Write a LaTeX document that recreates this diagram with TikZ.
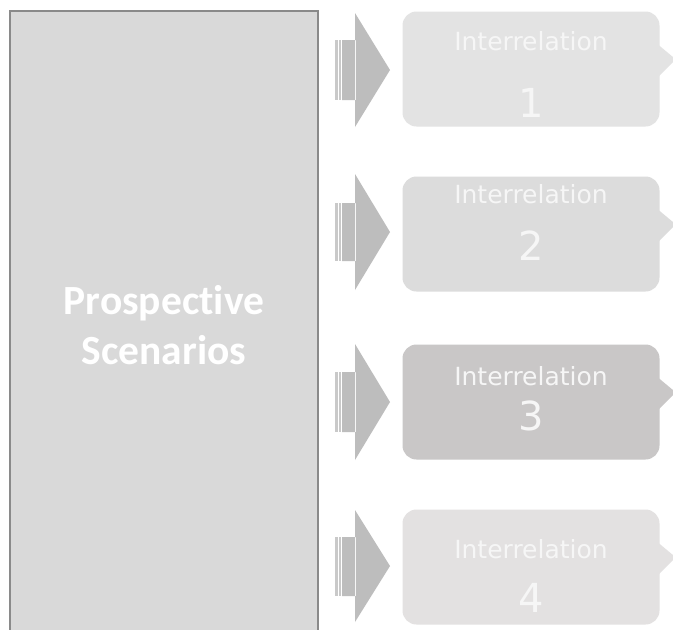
\documentclass[tikz,border=0pt]{standalone}
\usepackage{fontspec}
\newfontfamily\relfont{DejaVu Sans}
\newfontfamily\scenfont[Ligatures=NoCommon]{Carlito}
\definecolor{scenfill}{HTML}{D9D9D9}
\definecolor{scenline}{HTML}{8A8A8A}
\definecolor{arrowgray}{HTML}{BDBDBD}
\definecolor{stripegray}{HTML}{C9C9C9}
\definecolor{relA}{HTML}{E3E3E3}
\definecolor{relB}{HTML}{DCDCDC}
\definecolor{relC}{HTML}{C9C7C7}
\definecolor{relD}{HTML}{E3E1E1}
\definecolor{reltext}{HTML}{F6F6F6}

\begin{document}
\begin{tikzpicture}[x=1pt,y=-1pt]
\tikzset{
  scenbox/.style={draw=scenline,line width=2pt,fill=scenfill,minimum width=308pt,minimum height=628pt,
    inner sep=0pt,align=center,text=white,font=\scenfont\bfseries\fontsize{41.5}{50}\selectfont},
  relbox/.style={rounded corners=14pt,minimum width=257pt,minimum height=115pt,inner sep=0pt},
  reltitle/.style={anchor=base,text=reltext,font=\relfont\fontsize{25}{30}\selectfont},
  relnum/.style={anchor=base,text=reltext,font=\relfont\fontsize{40}{48}\selectfont},
  blockarrow/.style={fill=arrowgray},
  stripe/.style={fill=stripegray}
}
\useasboundingbox (0,0) rectangle (673,630);
\fill[white] (0,0) rectangle (673,630);

\node[scenbox] (scen) at (164,325) {Prospective\\Scenarios};

\node[relbox,fill=relA] (rel1) at (531,69) {};
\node[relbox,fill=relB] (rel2) at (531,234) {};
\node[relbox,fill=relC] (rel3) at (531,402) {};
\node[relbox,fill=relD] (rel4) at (531,567) {};

% bubble pointers
\fill[relA] ([xshift=-2pt,yshift=-33pt]rel1.north east) -- ([xshift=16pt,yshift=-48pt]rel1.north east) -- ([xshift=-2pt,yshift=-66pt]rel1.north east) -- cycle;
\fill[relB] ([xshift=-2pt,yshift=-33pt]rel2.north east) -- ([xshift=16pt,yshift=-48pt]rel2.north east) -- ([xshift=-2pt,yshift=-66pt]rel2.north east) -- cycle;
\fill[relC] ([xshift=-2pt,yshift=-33pt]rel3.north east) -- ([xshift=16pt,yshift=-48pt]rel3.north east) -- ([xshift=-2pt,yshift=-66pt]rel3.north east) -- cycle;
\fill[relD] ([xshift=-2pt,yshift=-33pt]rel4.north east) -- ([xshift=16pt,yshift=-48pt]rel4.north east) -- ([xshift=-2pt,yshift=-66pt]rel4.north east) -- cycle;

\node[reltitle] (t1) at (531,50) {Interrelation};
\node[relnum] (n1) at (531,117) {1};
\node[reltitle] (t2) at (531,203) {Interrelation};
\node[relnum] (n2) at (531,260) {2};
\node[reltitle] (t3) at (531,385) {Interrelation};
\node[relnum] (n3) at (531,430) {3};
\node[reltitle] (t4) at (531,558) {Interrelation};
\node[relnum] (n4) at (531,612) {4};

% striped block arrows
\fill[stripe] (335,40) rectangle (337.5,100);
\fill[stripe] (339,40) rectangle (341,100);
\fill[blockarrow] (342,40) rectangle (356,100) (355,13) -- (390,70) -- (355,127) -- cycle;
\fill[stripe] (335,203) rectangle (337.5,261);
\fill[stripe] (339,203) rectangle (341,261);
\fill[blockarrow] (342,203) rectangle (356,261) (355,174) -- (390,232) -- (355,290) -- cycle;
\fill[stripe] (335,372) rectangle (337.5,432);
\fill[stripe] (339,372) rectangle (341,432);
\fill[blockarrow] (342,372) rectangle (356,432) (355,344) -- (390,402) -- (355,460) -- cycle;
\fill[stripe] (335,537) rectangle (337.5,596);
\fill[stripe] (339,537) rectangle (341,596);
\fill[blockarrow] (342,537) rectangle (356,596) (355,510) -- (390,566) -- (355,622) -- cycle;
\end{tikzpicture}
\end{document}
